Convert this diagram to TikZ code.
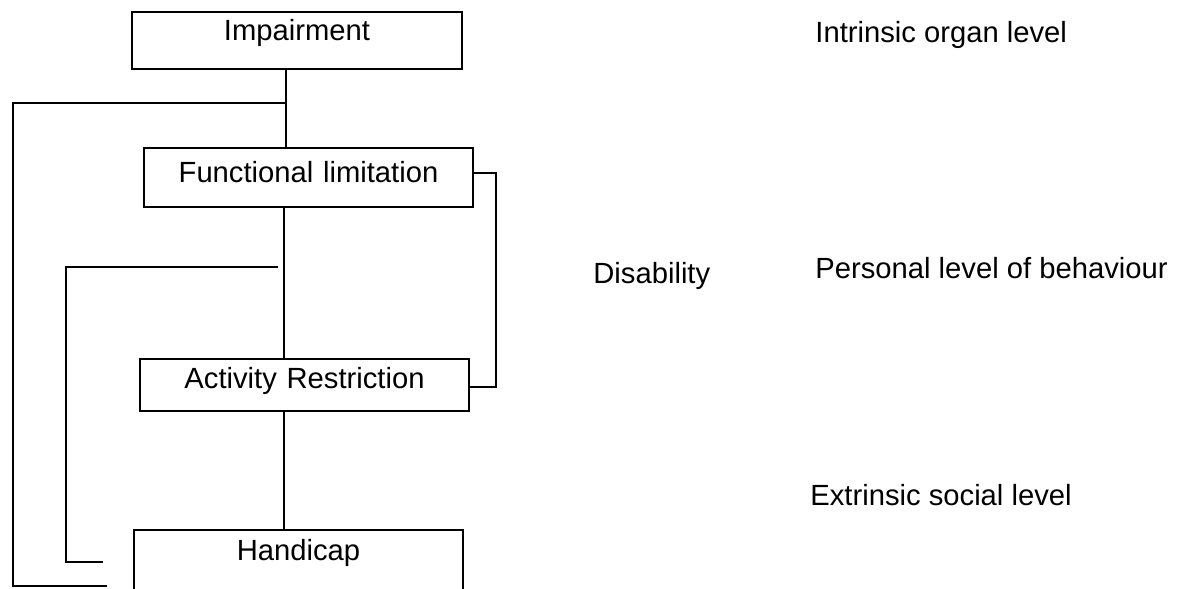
\documentclass[tikz,border=0pt]{standalone}
\usepackage{fontspec}
\setmainfont{Liberation Sans}
\begin{document}
\begin{tikzpicture}[x=0.5pt,y=-0.5pt,
  every node/.style={font=\fontsize{14.6pt}{17pt}\selectfont},
  levelbox/.style={draw, line width=0.6pt, inner sep=0pt, align=center, anchor=base},
  stem/.style={line width=0.6pt},
  wire/.style={line width=1pt},
  levelnote/.style={anchor=base west, inner sep=0pt}]
  % page frame
  \clip (0,0) rectangle (1178,589);
  \fill[white] (0,0) rectangle (1178,589);

  % the four levels
  \node[levelbox, text width=165pt, text height=14pt, text depth=14.5pt] (imp) at (297,40) {Impairment};
  \node[levelbox, text width=164.5pt, text height=17pt, text depth=12.5pt] (fl) at (308.5,182) {Functional limitation};
  \node[levelbox, text width=164.5pt, text height=14.5pt, text depth=11.5pt] (ar) at (304.5,388) {Activity Restriction};
  \node[levelbox, text width=164.5pt, text height=15pt, text depth=30pt] (hc) at (298.5,560) {Handicap};

  % notes on the right
  \node[levelnote] (intr) at (815,42) {Intrinsic organ level};
  \node[levelnote] (dis) at (593,283) {Disability};
  \node[levelnote] (pers) at (815,278) {Personal level of behaviour};
  \node[levelnote] (extr) at (810,505) {Extrinsic social level};

  % main chain
  \coordinate (j1) at (286,103);
  \coordinate (j2) at (284,300);
  \draw[stem] (imp.south -| j1) -- (fl.north -| j1);
  \draw[stem] (fl.south -| j2) -- (ar.north -| j2);
  \draw[stem] (ar.south -| j2) -- (hc.north -| j2);

  % outer loop from impairment to handicap
  \coordinate (o1) at (13,103);
  \coordinate (o2) at (13,586);
  \coordinate (o3) at (107,586);
  \draw[wire] (j1) -- (o1) -- (o2) -- (o3);

  % inner loop from functional limitation to handicap
  \coordinate (i0) at (278,267);
  \coordinate (i1) at (66,267);
  \coordinate (i2) at (66,562);
  \coordinate (i3) at (103,562);
  \draw[wire] (i0) -- (i1) -- (i2) -- (i3);

  % bracket joining functional limitation and activity restriction
  \coordinate (b1) at (496,173);
  \coordinate (b2) at (496,387);
  \draw[wire] (fl.east |- b1) -- (b1) -- (b2) -- (ar.east |- b2);
\end{tikzpicture}
\end{document}
